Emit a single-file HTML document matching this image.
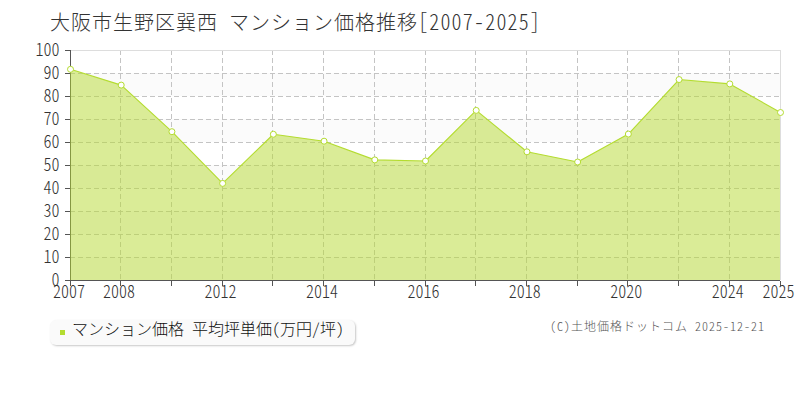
<!DOCTYPE html>
<html><head><meta charset="utf-8"><style>
html,body{margin:0;padding:0;background:#fff;width:800px;height:400px;overflow:hidden;position:relative}
body{font-family:"Liberation Sans","Noto Sans CJK JP",sans-serif}
.t{font-family:"Noto Sans CJK JP","IPAGothic",sans-serif;font-weight:300;font-feature-settings:"hwid" 1;white-space:nowrap;position:absolute}
svg{position:absolute;left:0;top:0}
.tl{display:inline-block;letter-spacing:1.2px;transform:scaleY(1.1);transform-origin:50% 15px}
.br{position:relative;top:-1.5px}
.title{left:50px;top:12px;font-size:20px;line-height:20px;letter-spacing:1px;color:#333}
.yl{left:19.5px;width:40px;text-align:right;font-size:16px;line-height:18px;color:#333;transform:scaleY(1.15);transform-origin:50% 50%}
.xl{top:280.5px;width:60px;text-align:center;font-size:16px;line-height:16px;color:#333;transform:scaleY(1.15);transform-origin:50% 0}
.legend{position:absolute;left:50px;top:320px;width:305px;height:25px;background:#fafafa;border-radius:6px;box-shadow:1px 1px 2px rgba(0,0,0,0.22)}
.sq{position:absolute;left:10px;top:10px;width:5px;height:5px;background:#b4dc30}
.lt{left:22px;top:0px;font-size:16px;line-height:16px;color:#111}
.copy{left:550px;top:319px;font-size:12px;line-height:14px;letter-spacing:1px;color:#555}
</style></head><body>
<svg width="800" height="400" viewBox="0 0 800 400">
<g shape-rendering="crispEdges">
<rect x="70" y="73" width="710" height="23" fill="#fbfbfb"/><rect x="70" y="119" width="710" height="23" fill="#fbfbfb"/><rect x="70" y="165" width="710" height="23" fill="#fbfbfb"/><rect x="70" y="211" width="710" height="23" fill="#fbfbfb"/><rect x="70" y="257" width="710" height="23" fill="#fbfbfb"/>
<g stroke="#c4c4c4" stroke-width="1" stroke-dasharray="5,3"><line x1="70" y1="73.5" x2="780" y2="73.5"/><line x1="70" y1="96.5" x2="780" y2="96.5"/><line x1="70" y1="119.5" x2="780" y2="119.5"/><line x1="70" y1="142.5" x2="780" y2="142.5"/><line x1="70" y1="165.5" x2="780" y2="165.5"/><line x1="70" y1="188.5" x2="780" y2="188.5"/><line x1="70" y1="211.5" x2="780" y2="211.5"/><line x1="70" y1="234.5" x2="780" y2="234.5"/><line x1="70" y1="257.5" x2="780" y2="257.5"/><line x1="120.5" y1="50" x2="120.5" y2="280"/><line x1="171.5" y1="50" x2="171.5" y2="280"/><line x1="222.5" y1="50" x2="222.5" y2="280"/><line x1="272.5" y1="50" x2="272.5" y2="280"/><line x1="323.5" y1="50" x2="323.5" y2="280"/><line x1="374.5" y1="50" x2="374.5" y2="280"/><line x1="425.5" y1="50" x2="425.5" y2="280"/><line x1="475.5" y1="50" x2="475.5" y2="280"/><line x1="526.5" y1="50" x2="526.5" y2="280"/><line x1="577.5" y1="50" x2="577.5" y2="280"/><line x1="627.5" y1="50" x2="627.5" y2="280"/><line x1="678.5" y1="50" x2="678.5" y2="280"/><line x1="729.5" y1="50" x2="729.5" y2="280"/></g>
<line x1="70" y1="50.5" x2="780" y2="50.5" stroke="#dddddd"/>
<line x1="780.5" y1="50" x2="780.5" y2="280" stroke="#dddddd"/>
<line x1="70.5" y1="50" x2="70.5" y2="281" stroke="#555555"/>
<line x1="65" y1="280.5" x2="780" y2="280.5" stroke="#555555"/>
<g stroke="#555555"><line x1="65" y1="50.5" x2="70" y2="50.5"/><line x1="65" y1="73.5" x2="70" y2="73.5"/><line x1="65" y1="96.5" x2="70" y2="96.5"/><line x1="65" y1="119.5" x2="70" y2="119.5"/><line x1="65" y1="142.5" x2="70" y2="142.5"/><line x1="65" y1="165.5" x2="70" y2="165.5"/><line x1="65" y1="188.5" x2="70" y2="188.5"/><line x1="65" y1="211.5" x2="70" y2="211.5"/><line x1="65" y1="234.5" x2="70" y2="234.5"/><line x1="65" y1="257.5" x2="70" y2="257.5"/><line x1="65" y1="280.5" x2="70" y2="280.5"/><line x1="70.5" y1="281" x2="70.5" y2="286"/><line x1="120.5" y1="281" x2="120.5" y2="286"/><line x1="171.5" y1="281" x2="171.5" y2="286"/><line x1="222.5" y1="281" x2="222.5" y2="286"/><line x1="272.5" y1="281" x2="272.5" y2="286"/><line x1="323.5" y1="281" x2="323.5" y2="286"/><line x1="374.5" y1="281" x2="374.5" y2="286"/><line x1="425.5" y1="281" x2="425.5" y2="286"/><line x1="475.5" y1="281" x2="475.5" y2="286"/><line x1="526.5" y1="281" x2="526.5" y2="286"/><line x1="577.5" y1="281" x2="577.5" y2="286"/><line x1="627.5" y1="281" x2="627.5" y2="286"/><line x1="678.5" y1="281" x2="678.5" y2="286"/><line x1="729.5" y1="281" x2="729.5" y2="286"/><line x1="780.5" y1="281" x2="780.5" y2="286"/></g>
</g>
<polygon points="70,280 70,69.3 121.21,85.1 171.93,131.70000000000002 222.64,183.4 273.36,134.25 324.07,141.20000000000002 374.79,159.9 425.5,161.0 476.21,110.39999999999999 526.93,151.8 577.64,162.0 628.36,134.05 679.07,79.55 729.79,83.89999999999999 780,112.5 780,280" fill="rgba(182,218,48,0.5)"/>
<polyline points="70.5,69.3 121.21,85.1 171.93,131.70000000000002 222.64,183.4 273.36,134.25 324.07,141.20000000000002 374.79,159.9 425.5,161.0 476.21,110.39999999999999 526.93,151.8 577.64,162.0 628.36,134.05 679.07,79.55 729.79,83.89999999999999 780.5,112.5" fill="none" stroke="#b4dc30" stroke-width="1.15" stroke-linejoin="round"/>
<g fill="#fff" stroke="#b4dc30" stroke-width="1.0"><circle cx="70.5" cy="69.3" r="3"/><circle cx="121.21" cy="85.1" r="3"/><circle cx="171.93" cy="131.70000000000002" r="3"/><circle cx="222.64" cy="183.4" r="3"/><circle cx="273.36" cy="134.25" r="3"/><circle cx="324.07" cy="141.20000000000002" r="3"/><circle cx="374.79" cy="159.9" r="3"/><circle cx="425.5" cy="161.0" r="3"/><circle cx="476.21" cy="110.39999999999999" r="3"/><circle cx="526.93" cy="151.8" r="3"/><circle cx="577.64" cy="162.0" r="3"/><circle cx="628.36" cy="134.05" r="3"/><circle cx="679.07" cy="79.55" r="3"/><circle cx="729.79" cy="83.89999999999999" r="3"/><circle cx="780.5" cy="112.5" r="3"/></g>
</svg>
<div class="t title">大阪市生野区巽西 マンション価格推移<span class="tl"><span class="br">[</span>2007-2025<span class="br">]</span></span></div>
<div class="t yl" style="top:39.25px">100</div>
<div class="t yl" style="top:62.25px">90</div>
<div class="t yl" style="top:85.25px">80</div>
<div class="t yl" style="top:108.25px">70</div>
<div class="t yl" style="top:131.25px">60</div>
<div class="t yl" style="top:154.25px">50</div>
<div class="t yl" style="top:177.25px">40</div>
<div class="t yl" style="top:200.25px">30</div>
<div class="t yl" style="top:223.25px">20</div>
<div class="t yl" style="top:246.25px">10</div>
<div class="t yl" style="top:269.25px">0</div>
<div class="t xl" style="left:39.0px">2007</div>
<div class="t xl" style="left:89.1px">2008</div>
<div class="t xl" style="left:190.5px">2012</div>
<div class="t xl" style="left:292.0px">2014</div>
<div class="t xl" style="left:393.4px">2016</div>
<div class="t xl" style="left:494.8px">2018</div>
<div class="t xl" style="left:596.3px">2020</div>
<div class="t xl" style="left:697.7px">2024</div>
<div class="t xl" style="left:748.4px">2025</div>

<div class="legend"><div class="sq"></div><div class="t lt">マンション価格 平均坪単価(万円/坪)</div></div>
<div class="t copy">(C)土地価格ドットコム 2025-12-21</div>
</body></html>
